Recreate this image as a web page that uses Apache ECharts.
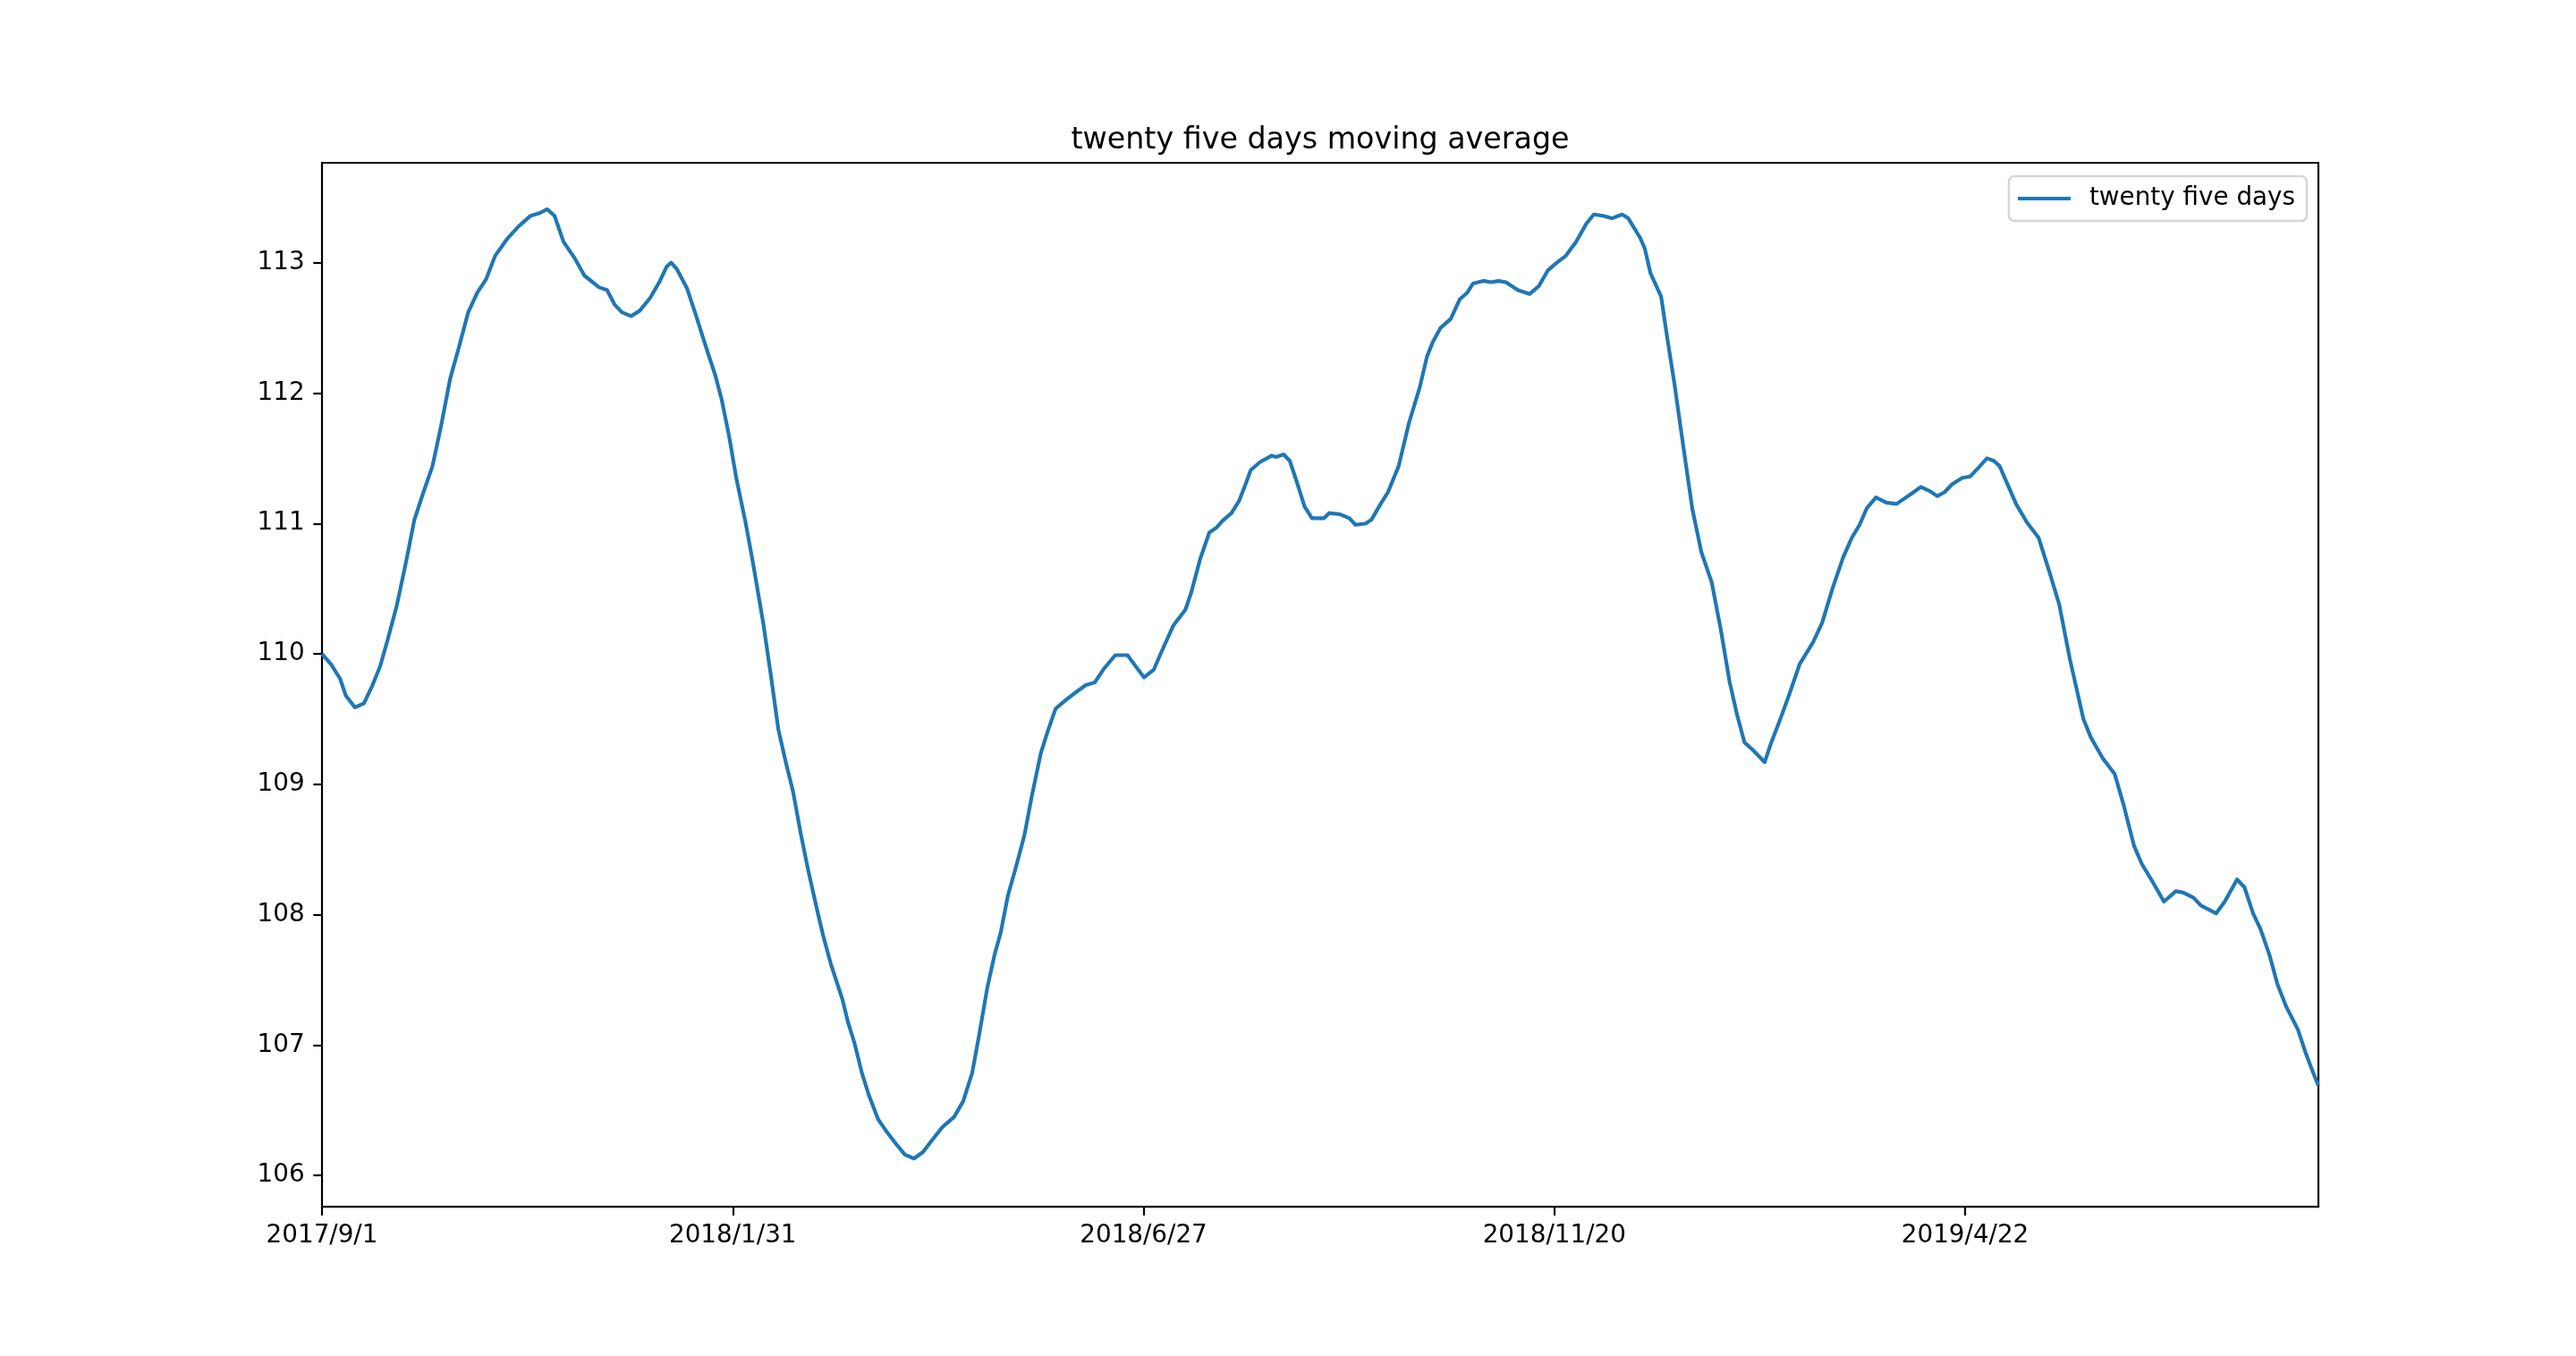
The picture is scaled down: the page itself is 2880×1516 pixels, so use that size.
<!DOCTYPE html>
<html>
<head>
<meta charset="utf-8">
<script src="https://cdn.jsdelivr.net/npm/echarts@6/dist/echarts.min.js"></script>
<style>
html,body{margin:0;padding:0;background:#fff;}
#chart{width:2880px;height:1516px;}
</style>
</head>
<body>
<div id="chart"></div>
<script>
// Trading-day index positions (x) of the points
var dayIndex = [
  0,2.2,4.4,5.8,8,10.2,12.3,14.2,16,18.2,20.3,22.5,24.7,26.9,29,31.2,33.4,35.6,37.8,39.9,
  42.1,45,47.9,50.8,53,54.8,56.6,58.8,61.4,63.9,67.5,69.4,71.2,73,75.2,77.3,79.9,82.1,83.9,85,
  86.4,88.9,91.1,93,95.8,97.3,99.1,100.9,103.1,104.9,107.4,109.3,111.1,112.9,114.7,116.5,118.3,120.5,122,123.8,
  126.7,128.1,129.6,131.4,133.2,135.4,137.6,139.8,141.9,144.1,146.3,148.5,151,153.9,156.1,158.3,160.1,161.9,163.7,165.2,
  167,168.8,171,172.8,175,176.8,178.6,181.2,183.3,185.9,188.1,190.2,193.1,196.1,198.2,200.1,202.5,204.7,207.3,210.2,
  211.6,213.8,216,217.8,219.2,221.4,223.2,224.7,226.1,228.3,231.2,232.3,234.1,235.6,237.4,239.2,241,243.9,245.2,247.9,
  250.1,251.6,254.1,255.5,257.7,259.5,262.1,264.6,267.2,269,270.4,272.3,274.8,277,278.8,280.2,282.8,284.6,286.4,288.2,
  291.1,294,296.2,298.4,300.6,302.7,305.3,307.8,309.6,311.8,314,316.5,318,320.9,322,323.4,326,327.4,329.2,331.4,
  333.6,335.8,338.3,340.5,342.7,344.5,346.3,348.1,351.2,352.8,355,357.2,359.7,363,365.2,367.7,370.3,372.4,374.3,376.1,
  378.3,380.8,383.3,387,389.2,391.3,393.2,395,396.8,399.3,401.2,403.3,405.3,407,408.4,410.2,412.4,415,417.9,420.4,
  422.9,425.5,428.8,430.6,433.5,436.4,438.6,441.1,443,445.5,448.4,451.3,453.1,455.6,457.4,461.1,463.2,466.2,468,470.1,
  471.9,474.1,476,478.1,481,482.9,484.7,486
];
// Twenty five days moving average values
var movingAvg = [
  110.00,109.92,109.81,109.68,109.59,109.62,109.76,109.91,110.11,110.37,110.68,111.03,111.24,111.44,111.75,112.11,112.36,112.62,112.77,112.87,
  113.05,113.18,113.28,113.36,113.38,113.41,113.36,113.16,113.04,112.90,112.81,112.79,112.68,112.62,112.59,112.63,112.73,112.85,112.97,113.00,
  112.95,112.80,112.59,112.40,112.13,111.95,111.67,111.34,111.01,110.70,110.24,109.83,109.42,109.17,108.94,108.63,108.35,108.04,107.84,107.63,
  107.35,107.17,107.02,106.79,106.61,106.43,106.33,106.24,106.16,106.13,106.18,106.27,106.37,106.45,106.57,106.79,107.10,107.43,107.69,107.86,
  108.15,108.35,108.61,108.91,109.24,109.42,109.58,109.65,109.70,109.76,109.78,109.88,109.99,109.99,109.90,109.82,109.88,110.04,110.22,110.34,
  110.47,110.73,110.93,110.97,111.02,111.08,111.17,111.29,111.41,111.47,111.52,111.51,111.53,111.48,111.31,111.13,111.04,111.04,111.08,111.07,
  111.04,110.99,111.00,111.03,111.15,111.24,111.44,111.77,112.04,112.28,112.39,112.50,112.57,112.72,112.77,112.84,112.86,112.85,112.86,112.85,
  112.79,112.76,112.82,112.94,113.00,113.05,113.16,113.30,113.37,113.36,113.34,113.37,113.34,113.19,113.11,112.92,112.74,112.44,112.08,111.59,
  111.11,110.78,110.55,110.19,109.78,109.53,109.32,109.27,109.17,109.32,109.50,109.69,109.92,110.09,110.24,110.50,110.74,110.89,110.99,111.12,
  111.20,111.16,111.15,111.23,111.28,111.25,111.21,111.24,111.30,111.35,111.36,111.43,111.50,111.48,111.44,111.31,111.15,111.01,110.89,110.64,
  110.38,109.96,109.50,109.36,109.20,109.08,108.84,108.53,108.39,108.26,108.10,108.18,108.17,108.13,108.07,108.01,108.10,108.27,108.21,108.01,
  107.89,107.69,107.47,107.30,107.12,106.94,106.79,106.69
];
var xTickPositions = [0, 100, 200, 300, 400];
var xTickLabels = ['2017/9/1', '2018/1/31', '2018/6/27', '2018/11/20', '2019/4/22'];
var yTickValues = [106, 107, 108, 109, 110, 111, 112, 113];
var seriesName = 'twenty five days';
var chartTitle = 'twenty five days moving average';

var seriesData = dayIndex.map(function (x, i) { return [x, movingAvg[i]]; });

var FONT = 'DejaVu Sans';
var chart = echarts.init(document.getElementById('chart'), null, {renderer: 'canvas'});
chart.setOption({
  animation: false,
  backgroundColor: '#ffffff',
  title: {
    text: chartTitle,
    left: 1476,
    top: 141,
    padding: 0,
    textAlign: 'center',
    textStyle: {fontFamily: FONT, fontSize: 33.3, fontWeight: 'normal', color: '#000'}
  },
  legend: {
    data: [seriesName],
    right: 301,
    top: 197,
    padding: [10, 13, 10, 10],
    backgroundColor: 'rgba(255,255,255,0.8)',
    borderColor: '#d6d6d6',
    borderWidth: 2.5,
    borderRadius: 6,
    icon: 'rect',
    itemWidth: 59,
    itemHeight: 4.2,
    textStyle: {fontFamily: FONT, fontSize: 27.8, color: '#000', lineHeight: 30, padding: [0, 0, 0, 16]}
  },
  grid: {
    left: 360, right: 288, top: 182, bottom: 166.8,
    show: true, borderColor: '#000', borderWidth: 2.2, backgroundColor: 'transparent'
  },
  xAxis: {
    type: 'value',
    min: 0,
    max: 486,
    splitLine: {show: false},
    axisLine: {show: false},
    axisTick: {show: true, inside: false, length: 9.7, customValues: xTickPositions,
      lineStyle: {color: '#000', width: 2.2}},
    axisLabel: {
      customValues: xTickPositions,
      margin: 19,
      fontFamily: FONT, fontSize: 27.8, color: '#000',
      formatter: function (v) {
        var k = xTickPositions.indexOf(Math.round(v));
        return k >= 0 ? xTickLabels[k] : '';
      }
    }
  },
  yAxis: {
    type: 'value',
    min: 105.76,
    max: 113.766,
    splitLine: {show: false},
    axisLine: {show: false},
    axisTick: {show: true, inside: false, length: 9.7, customValues: yTickValues,
      lineStyle: {color: '#000', width: 2.2}},
    axisLabel: {
      customValues: yTickValues,
      margin: 19.4,
      padding: [7, 0, 0, 0],
      fontFamily: FONT, fontSize: 27.8, color: '#000',
      formatter: function (v) { return String(Math.round(v)); }
    }
  },
  series: [{
    name: seriesName,
    type: 'line',
    data: seriesData,
    showSymbol: false,
    symbol: 'none',
    clip: true,
    color: '#1f77b4',
    lineStyle: {color: '#1f77b4', width: 4.17, join: 'round', cap: 'butt'}
  }]
});
</script>
</body>
</html>
